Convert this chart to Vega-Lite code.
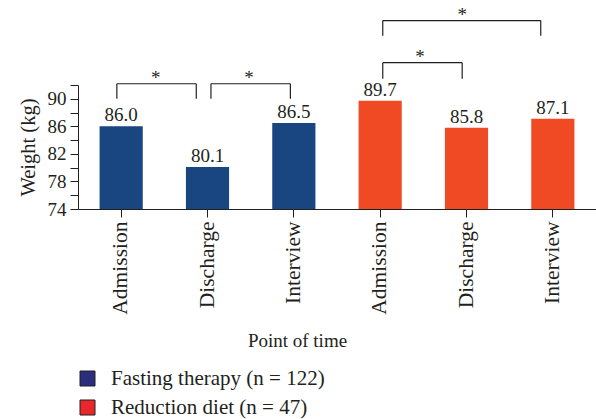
{
  "$schema": "https://vega.github.io/schema/vega-lite/v6.json",
  "autosize": "none",
  "width": 518,
  "height": 124,
  "padding": {"left": 78, "top": 85, "right": 0, "bottom": 210},
  "background": "white",
  "config": {
    "view": {"stroke": null},
    "font": "Liberation Serif",
    "text": {"font": "Liberation Serif"},
    "axis": {
      "labelFont": "Liberation Serif", "labelColor": "#231f20", "tickColor": "#231f20", "domainColor": "#231f20",
      "titleFont": "Liberation Serif", "titleFontWeight": "normal", "titleColor": "#231f20", "grid": false, "tickSize": 8, "labelOverlap": false
    },
    "axisY": {"labelFontSize": 19, "labelPadding": 4, "labelOverlap": false, "titleFontSize": 20.5, "titlePadding": 9},
    "axisQuantitative": {"labelOverlap": false},
    "legend": {"labelFont": "Liberation Serif", "labelColor": "#231f20"}
  },
  "datasets": {
    "bars": [
      {"key": "F|Admission", "group": "Fasting therapy (n = 122)", "value": 86.0},
      {"key": "F|Discharge", "group": "Fasting therapy (n = 122)", "value": 80.1},
      {"key": "F|Interview", "group": "Fasting therapy (n = 122)", "value": 86.5},
      {"key": "R|Admission", "group": "Reduction diet (n = 47)", "value": 89.7},
      {"key": "R|Discharge", "group": "Reduction diet (n = 47)", "value": 85.8},
      {"key": "R|Interview", "group": "Reduction diet (n = 47)", "value": 87.1}
    ],
    "brackets": [
      {"xa": 0.45, "xb": 1.37, "value": 92.18, "value2": 92.18},
      {"xa": 0.45, "xb": 0.45, "value": 92.18, "value2": 90.0},
      {"xa": 1.37, "xb": 1.37, "value": 92.18, "value2": 90.0},
      {"xa": 1.54, "xb": 2.46, "value": 92.18, "value2": 92.18},
      {"xa": 1.54, "xb": 1.54, "value": 92.18, "value2": 90.0},
      {"xa": 2.46, "xb": 2.46, "value": 92.18, "value2": 90.0},
      {"xa": 3.53, "xb": 4.45, "value": 95.24, "value2": 95.24},
      {"xa": 3.53, "xb": 3.53, "value": 95.24, "value2": 92.9},
      {"xa": 4.45, "xb": 4.45, "value": 95.24, "value2": 92.9},
      {"xa": 3.53, "xb": 5.36, "value": 101.35, "value2": 101.35},
      {"xa": 3.53, "xb": 3.53, "value": 101.35, "value2": 99.16},
      {"xa": 5.36, "xb": 5.36, "value": 101.35, "value2": 99.16}
    ],
    "stars": [
      {"xs": 0.90, "value": 92.1, "t": "*"},
      {"xs": 1.98, "value": 92.1, "t": "*"},
      {"xs": 3.96, "value": 95.2, "t": "*"},
      {"xs": 4.45, "value": 101.3, "t": "*"}
    ]
  },
  "encoding": {
    "y": {
      "field": "value", "type": "quantitative",
      "scale": {"domain": [74, 92], "nice": false, "zero": false},
      "axis": {
        "title": "Weight (kg)",
        "values": [74, 76, 78, 80, 82, 84, 86, 88, 90, 92],
        "labelExpr": "datum.value == 74 || datum.value == 78 || datum.value == 82 || datum.value == 86 || datum.value == 90 ? datum.label : ''",
        "labelOverlap": false, "labelFontSize": 19, "labelPadding": 4,
        "titleFontSize": 20.5, "titlePadding": 9
      }
    }
  },
  "layer": [
    {
      "data": {"name": "bars"},
      "mark": {"type": "square", "size": 100, "opacity": 1},
      "encoding": {
        "x": {"field": "key", "type": "nominal", "sort": null, "scale": {"paddingInner": 0.5, "paddingOuter": 0.25}, "axis": null},
        "y": {
          "datum": 76, "type": "quantitative",
          "scale": {"domain": [74, 92], "nice": false, "zero": false},
          "axis": {
            "title": "Weight (kg)",
            "values": [74, 76, 78, 80, 82, 84, 86, 88, 90, 92],
            "labelExpr": "datum.value == 74 || datum.value == 78 || datum.value == 82 || datum.value == 86 || datum.value == 90 ? datum.label : ''",
            "labelOverlap": false, "labelFontSize": 19, "labelPadding": 4,
            "titleFontSize": 20.5, "titlePadding": 9
          }
        },
        "color": {
          "field": "group", "type": "nominal",
          "scale": {"domain": ["Fasting therapy (n = 122)", "Reduction diet (n = 47)"], "range": ["#2b2e7c", "#e8272b"]},
          "legend": {
            "title": null, "orient": "none", "legendX": -1, "legendY": 283,
            "symbolType": "square", "symbolSize": 225,
            "symbolStrokeColor": "#231f20", "symbolStrokeWidth": 1,
            "labelFontSize": 21,
            "labelOffset": 13, "rowPadding": 7, "padding": 0, "labelLimit": 400
          }
        }
      }
    },
    {
      "data": {"name": "bars"},
      "mark": {"type": "bar"},
      "encoding": {
        "x": {
          "field": "key", "type": "nominal", "sort": null,
          "scale": {"paddingInner": 0.5, "paddingOuter": 0.25},
          "axis": {
            "title": "Point of time",
            "labelExpr": "split(datum.label, '|')[1]",
            "labelAngle": -90, "labelAlign": "right", "labelBaseline": "middle",
            "labelFontSize": 21.5, "labelPadding": 4,
            "titleFontSize": 19, "titleX": 219, "titleY": 131, "titleBaseline": "middle", "titleAnchor": "middle", "titleAlign": "center"
          }
        },
        "y2": {"datum": 74},
        "fill": {
          "field": "group", "type": "nominal", "legend": null,
          "scale": {"domain": ["Fasting therapy (n = 122)", "Reduction diet (n = 47)"], "range": ["#194580", "#f04a24"]}
        }
      }
    },
    {
      "data": {"name": "bars"},
      "mark": {"type": "text", "baseline": "alphabetic", "dy": -5, "fontSize": 19, "color": "#231f20", "font": "Liberation Serif"},
      "encoding": {
        "x": {"field": "key", "type": "nominal", "sort": null, "scale": {"paddingInner": 0.5, "paddingOuter": 0.25}, "axis": null},
        "text": {"field": "value", "type": "quantitative", "format": ".1f"}
      }
    },
    {
      "data": {"name": "brackets"},
      "mark": {"type": "rule", "color": "#231f20", "strokeWidth": 1.2},
      "encoding": {
        "x": {"field": "xa", "type": "quantitative", "scale": {"domain": [0, 6], "nice": false, "zero": false}, "axis": null},
        "x2": {"field": "xb"},
        "y2": {"field": "value2"}
      }
    },
    {
      "data": {"name": "stars"},
      "mark": {"type": "text", "baseline": "alphabetic", "fontSize": 19, "color": "#231f20", "font": "Liberation Serif"},
      "encoding": {
        "x": {"field": "xs", "type": "quantitative", "scale": {"domain": [0, 6], "nice": false, "zero": false}, "axis": null},
        "text": {"field": "t"}
      }
    }
  ],
  "resolve": {"scale": {"x": "independent"}, "axis": {"x": "independent"}}
}
